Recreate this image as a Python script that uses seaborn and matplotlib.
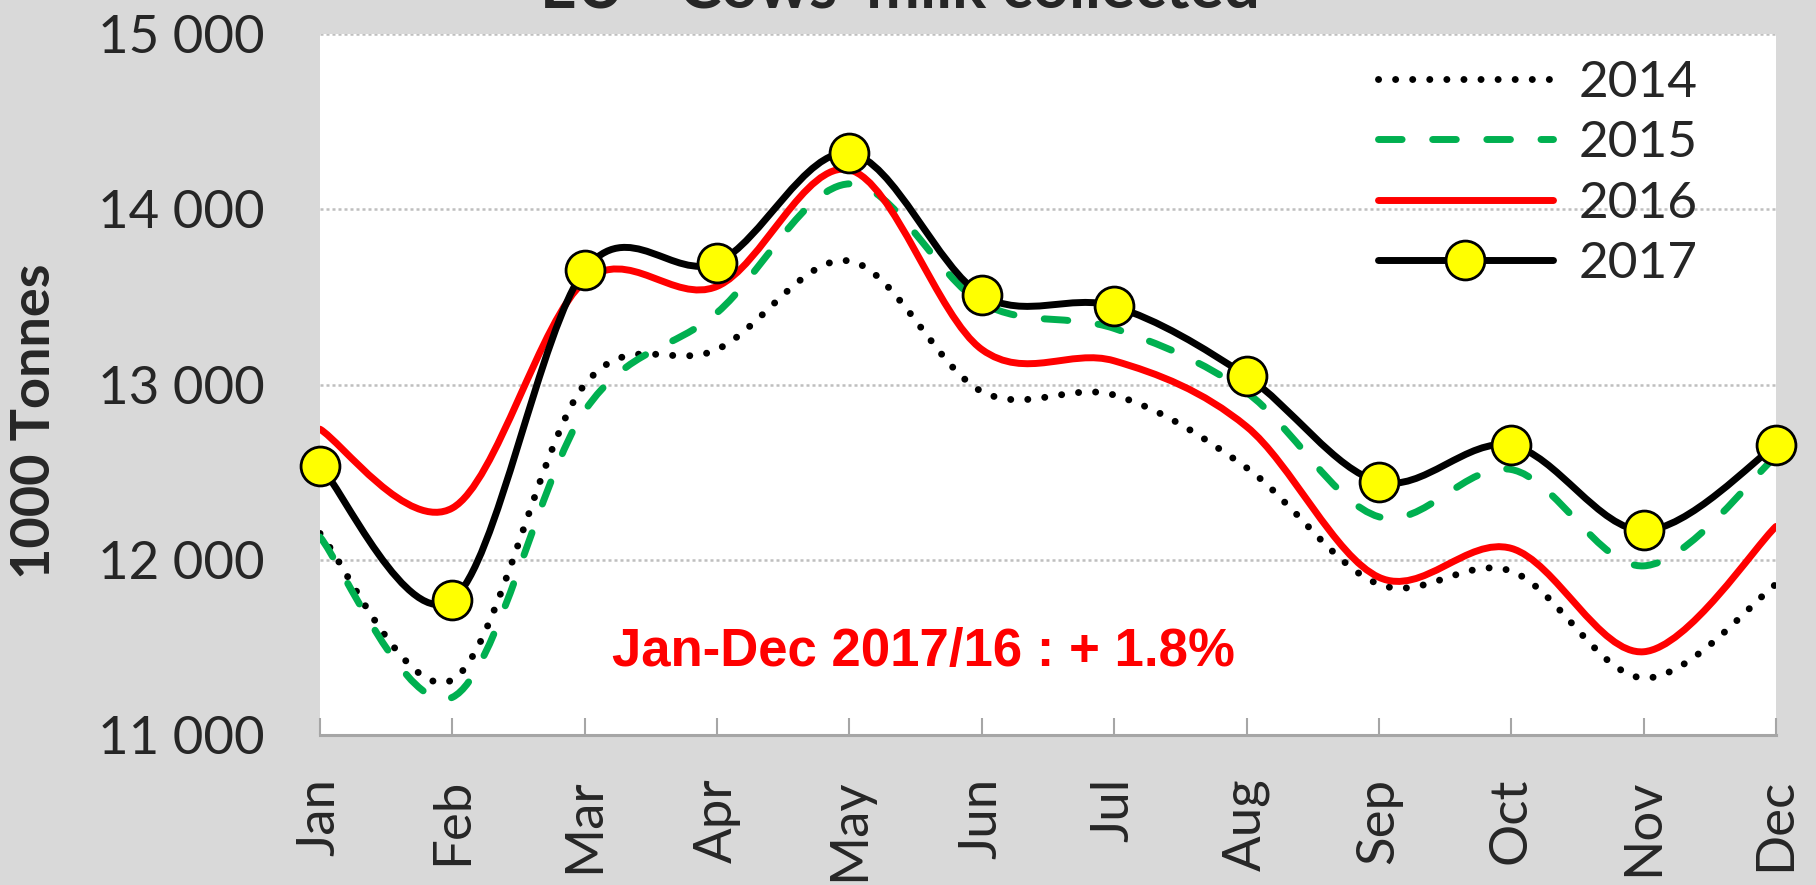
import numpy as np
import pandas as pd
import seaborn as sns
import matplotlib
matplotlib.use("Agg")
import matplotlib.pyplot as plt
from matplotlib.path import Path
from matplotlib.patches import PathPatch
from matplotlib.lines import Line2D

months = ["Jan", "Feb", "Mar", "Apr", "May", "Jun",
          "Jul", "Aug", "Sep", "Oct", "Nov", "Dec"]
milk_2014 = [12150, 11315, 13000, 13200, 13705, 12960, 12940, 12525, 11860, 11935, 11325, 11860]
milk_2015 = [12130, 11215, 12850, 13410, 14145, 13465, 13320, 12955, 12245, 12515, 11965, 12590]
milk_2016 = [12745, 12295, 13590, 13560, 14225, 13200, 13135, 12760, 11900, 12065, 11475, 12190]
milk_2017 = [12537, 11771, 13653, 13695, 14320, 13510, 13446, 13048, 12445, 12653, 12167, 12653]
yticks = [11000, 12000, 13000, 14000, 15000]
title = "EU - Cows' milk collected"
note = "Jan-Dec 2017/16 : + 1.8%"

sns.set_theme(style="white")
plt.rcParams["font.family"] = ["Lato", "DejaVu Sans"]

df = pd.DataFrame({"month": months, "x": range(12),
                   "2014": milk_2014, "2015": milk_2015,
                   "2016": milk_2016, "2017": milk_2017})


def smooth_path(xs, ys):
    # excel style smoothed line: bezier segments through the points
    p = np.column_stack([xs, ys]).astype(float)
    ext = np.vstack([p[0], p, p[-1]])
    verts = [p[0]]
    codes = [Path.MOVETO]
    for i in range(len(p) - 1):
        c1 = p[i] + (ext[i + 2] - ext[i]) / 6
        c2 = p[i + 1] - (ext[i + 3] - ext[i + 1]) / 6
        verts += [c1, c2, p[i + 1]]
        codes += [Path.CURVE4] * 3
    return Path(verts, codes)


fig = plt.figure(figsize=(18.16, 8.85), dpi=100, facecolor="#D9D9D9")
ax = fig.add_axes([320 / 1816, 1 - 735 / 885, 1456 / 1816, 701 / 885])
ax.set_facecolor("white")

styles = {
    "2014": dict(color="black", ls=(0, (0.01, 2.45)), z=3),
    "2015": dict(color="#00B050", ls=(0, (3.4, 4.4)), z=4),
    "2016": dict(color="#FF0000", ls="-", z=5),
    "2017": dict(color="black", ls="-", z=6),
}
lw = 5
handles = []
for year, st in styles.items():
    patch = PathPatch(smooth_path(df["x"], df[year]), facecolor="none",
                      edgecolor=st["color"], lw=lw, linestyle=st["ls"],
                      capstyle="round", joinstyle="round", zorder=st["z"])
    ax.add_patch(patch)
    if year == "2017":
        h = Line2D([], [], color=st["color"], lw=lw, marker="o", markersize=28,
                   markerfacecolor="#FFFF00", markeredgecolor="black",
                   markeredgewidth=2, solid_capstyle="round")
    else:
        h = Line2D([], [], color=st["color"], lw=lw, linestyle=st["ls"],
                   dash_capstyle="round", solid_capstyle="round")
    handles.append(h)

sns.scatterplot(data=df, x="x", y="2017", ax=ax, s=28 ** 2, color="#FFFF00",
                edgecolor="black", linewidth=2, zorder=7, clip_on=False, legend=False)

ax.set_xlim(0, 11)
ax.set_ylim(11000, 15000)
ax.set_yticks(yticks)
ax.set_yticklabels([f"{v:,}".replace(",", " ") for v in yticks])
ax.set_xticks(range(12))
ax.set_xticklabels(months, rotation=90)
ax.set_xlabel("")
ax.set_ylabel("")
for s in ["top", "right", "left"]:
    ax.spines[s].set_visible(False)
ax.spines["bottom"].set_color("#A6A6A6")
ax.spines["bottom"].set_linewidth(2.2)
ax.spines["bottom"].set_zorder(2)
ax.tick_params(axis="x", direction="in", length=12, width=1.5, color="#A6A6A6",
               labelsize=38, pad=31, bottom=True)
ax.tick_params(axis="y", length=0, labelsize=38, pad=40)
ax.grid(False)
for v in yticks[1:]:
    ax.axhline(v, color="#BFBFBF", lw=1.8, ls=(0, (1.2, 1.2)), zorder=1)

ax.legend(handles, ["2014", "2015", "2016", "2017"], loc="upper left",
          bbox_to_anchor=(1378 / 1816, 1 - 60 / 885), bbox_transform=fig.transFigure,
          frameon=False, fontsize=37, handlelength=3.4, handletextpad=0.5,
          labelspacing=0.28, borderpad=0, borderaxespad=0)

ax.text(0.5 * (602 + 1245) / 1816, 1 - 652 / 885, note, transform=fig.transFigure,
        ha="center", va="center", color="#FF0000", fontsize=38,
        fontweight="bold", family=["Liberation Sans", "DejaVu Sans"])
fig.text(35 / 1816, 1 - 421 / 885, "1000 Tonnes", rotation=90, ha="center",
         va="center", fontsize=39, fontweight="bold")
fig.text(900 / 1816, 1 - 8 / 885, title, ha="center", va="baseline",
         fontsize=46, fontweight="bold")

fig.savefig("out.png", dpi=100, facecolor=fig.get_facecolor())
